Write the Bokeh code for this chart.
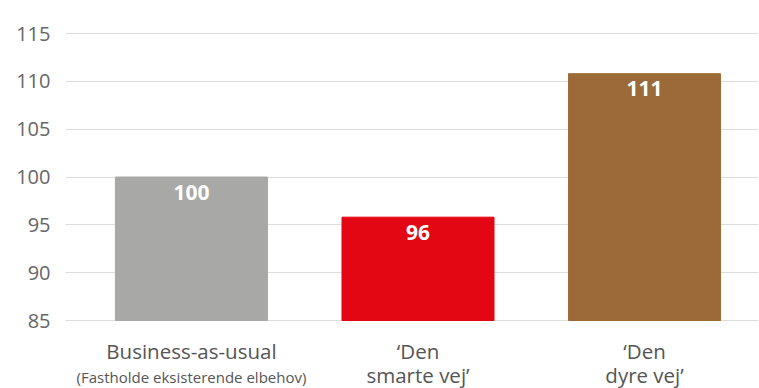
from bokeh.plotting import figure
from bokeh.models import ColumnDataSource, FixedTicker, Range1d
from bokeh.core.properties import value
from bokeh.embed import file_html
from bokeh.resources import INLINE

categories = ["Business-as-usual", "‘Den smarte vej’", "‘Den dyre vej’"]
label_line1 = ["Business-as-usual", "‘Den", "‘Den"]
label_line2 = ["(Fastholde eksisterende elbehov)", "smarte vej’", "dyre vej’"]
values = [100, 95.8, 110.8]
value_labels = ["100", "96", "111"]
y_ticks = [85, 90, 95, 100, 105, 110, 115]

palette = ["#a8a8a6", "#e30613", "#9c6a38"]
FONT = "Open Sans"

Y0, Y1 = 85, 115
PY0, PY1 = 320, 33          # pixel rows of Y0 and Y1
H, W = 388, 759
ppu = (PY0 - PY1) / (Y1 - Y0)

def y_at(py):
    return Y0 - (py - PY0) / ppu

xs = list(range(len(categories)))
src = ColumnDataSource(dict(x=xs, top=values, color=palette, lab=value_labels,
                            ly=[v - 15 / ppu for v in values]))

p = figure(width=W, height=H, output_backend="svg", toolbar_location=None,
           x_range=Range1d(-0.556, 2.503), y_range=Range1d(y_at(H), y_at(0)),
           min_border_left=65, min_border_right=1, min_border_top=0,
           min_border_bottom=0)
p.outline_line_color = None
p.background_fill_color = "white"
p.border_fill_color = "white"

p.vbar(x="x", top="top", bottom=Y0, width=0.671, color="color", source=src)
p.text(x="x", y="ly", text="lab", source=src, text_color="white",
       text_font=value(FONT), text_font_style="bold", text_font_size="21px",
       text_align="center", text_baseline="middle")

lsrc = ColumnDataSource(dict(x=xs, t1=label_line1, t2=label_line2,
                             y1=[y_at(350)] * 3,
                             y2=[y_at(376), y_at(374), y_at(374)],
                             fs=["15px", "20.5px", "20.5px"]))
p.text(x="x", y="y1", text="t1", source=lsrc, text_color="#555555",
       text_font=value(FONT), text_font_size="20.5px",
       text_align="center", text_baseline="middle")
p.text(x="x", y="y2", text="t2", source=lsrc, text_color="#555555",
       text_font=value(FONT), text_font_size="fs",
       text_align="center", text_baseline="middle")

p.xaxis.visible = False
p.xgrid.visible = False
p.ygrid.grid_line_color = "#dcdcdc"
p.ygrid.grid_line_width = 1
p.yaxis.ticker = FixedTicker(ticks=y_ticks)
p.yaxis.axis_line_color = None
p.yaxis.major_tick_line_color = None
p.yaxis.minor_tick_line_color = None
p.yaxis.major_label_standoff = 9
p.yaxis.major_label_text_font = FONT
p.yaxis.major_label_text_font_size = "20px"
p.yaxis.major_label_text_color = "#666666"

open("out.html", "w").write(file_html(p, INLINE))
